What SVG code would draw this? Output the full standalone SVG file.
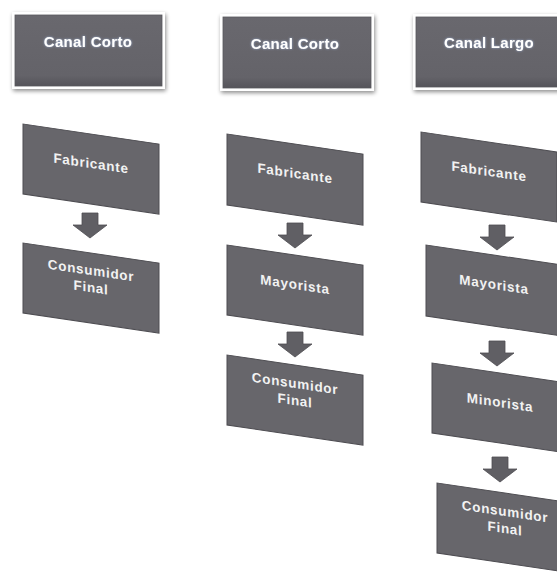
<svg xmlns="http://www.w3.org/2000/svg" width="557" height="572" viewBox="0 0 557 572">
  <defs>
    <linearGradient id="hdrFill" x1="0" y1="0" x2="0" y2="1">
      <stop offset="0" stop-color="#69686e"/>
      <stop offset="0.85" stop-color="#646369"/>
      <stop offset="1" stop-color="#55545a"/>
    </linearGradient>
    <filter id="shadow" x="-10%" y="-10%" width="125%" height="130%">
      <feGaussianBlur in="SourceAlpha" stdDeviation="2"/>
      <feOffset dx="1" dy="2" result="b"/>
      <feComponentTransfer><feFuncA type="linear" slope="0.45"/></feComponentTransfer>
      <feMerge><feMergeNode/><feMergeNode in="SourceGraphic"/></feMerge>
    </filter>
    <filter id="glow" x="-10%" y="-30%" width="120%" height="160%">
      <feGaussianBlur in="SourceAlpha" stdDeviation="0.8" result="a"/>
      <feFlood flood-color="#9fb6e0" flood-opacity="0.8"/>
      <feComposite in2="a" operator="in"/>
      <feMerge><feMergeNode/><feMergeNode in="SourceGraphic"/></feMerge>
    </filter>
    <path id="arrow" d="M-8,0 H8 V12 H17 L0,25 L-17,12 H-8 Z"/>
  </defs>
  <style>
    .hdr-frame { fill: #ffffff; filter: url(#shadow); }
    .hdr { fill: url(#hdrFill); stroke: #58575c; stroke-width: 0.8; }
    .hdr-text { font-family: "Liberation Sans", Arial, sans-serif; font-weight: bold; font-size: 15px; fill: #ffffff; text-anchor: middle; letter-spacing: 0.3px; filter: url(#glow); }
    .box { fill: #67666b; stroke: #4e4d52; stroke-width: 1; }
    .box-text { font-family: "Liberation Sans", Arial, sans-serif; font-weight: bold; font-size: 13.5px; fill: #f2f2f2; text-anchor: middle; letter-spacing: 0.7px; }
    .arr { fill: #605f64; stroke: #4e4d52; stroke-width: 0.8; }
  </style>

  <!-- channel headers -->
  <g id="hdr-corto-1">
    <rect class="hdr-frame" x="12" y="12" width="153" height="77"/>
    <rect class="hdr" x="15" y="15" width="147" height="71"/>
    <text class="hdr-text" x="88" y="47">Canal Corto</text>
  </g>
  <g id="hdr-corto-2">
    <rect class="hdr-frame" x="220" y="14" width="154" height="77"/>
    <rect class="hdr" x="223" y="17" width="148" height="71"/>
    <text class="hdr-text" x="295" y="49">Canal Corto</text>
  </g>
  <g id="hdr-largo">
    <rect class="hdr-frame" x="413" y="14" width="154" height="76"/>
    <rect class="hdr" x="416" y="17" width="148" height="70"/>
    <text class="hdr-text" x="489" y="48">Canal Largo</text>
  </g>

  <!-- connectors -->
  <g id="connectors">
    <use href="#arrow" class="arr" transform="translate(90,213)"/>
    <use href="#arrow" class="arr" transform="translate(295,223)"/>
    <use href="#arrow" class="arr" transform="translate(295,332)"/>
    <use href="#arrow" class="arr" transform="translate(497,225)"/>
    <use href="#arrow" class="arr" transform="translate(497,341)"/>
    <use href="#arrow" class="arr" transform="translate(500,457)"/>
  </g>

  <!-- short channel, direct -->
  <g id="c1-fabricante" transform="translate(23,124) skewY(8.4)">
    <rect class="box" width="136" height="70"/>
    <text class="box-text" x="68" y="34">Fabricante</text>
  </g>
  <g id="c1-consumidor" transform="translate(23,243) skewY(8.4)">
    <rect class="box" width="136" height="70"/>
    <text class="box-text" x="68" y="22">Consumidor</text>
    <text class="box-text" x="68" y="39">Final</text>
  </g>

  <!-- short channel with wholesaler -->
  <g id="c2-fabricante" transform="translate(227,134) skewY(8.4)">
    <rect class="box" width="136" height="71"/>
    <text class="box-text" x="68" y="34">Fabricante</text>
  </g>
  <g id="c2-mayorista" transform="translate(227,245) skewY(8.4)">
    <rect class="box" width="136" height="70"/>
    <text class="box-text" x="68" y="34">Mayorista</text>
  </g>
  <g id="c2-consumidor" transform="translate(227,355) skewY(8.4)">
    <rect class="box" width="136" height="70"/>
    <text class="box-text" x="68" y="23">Consumidor</text>
    <text class="box-text" x="68" y="40">Final</text>
  </g>

  <!-- long channel -->
  <g id="c3-fabricante" transform="translate(421,132) skewY(8.4)">
    <rect class="box" width="136" height="70"/>
    <text class="box-text" x="68" y="34">Fabricante</text>
  </g>
  <g id="c3-mayorista" transform="translate(426,245) skewY(8.4)">
    <rect class="box" width="136" height="71"/>
    <text class="box-text" x="68" y="34">Mayorista</text>
  </g>
  <g id="c3-minorista" transform="translate(432,363) skewY(8.4)">
    <rect class="box" width="136" height="70"/>
    <text class="box-text" x="68" y="34">Minorista</text>
  </g>
  <g id="c3-consumidor" transform="translate(437,483) skewY(8.4)">
    <rect class="box" width="136" height="70"/>
    <text class="box-text" x="68" y="23">Consumidor</text>
    <text class="box-text" x="68" y="40">Final</text>
  </g>
</svg>
